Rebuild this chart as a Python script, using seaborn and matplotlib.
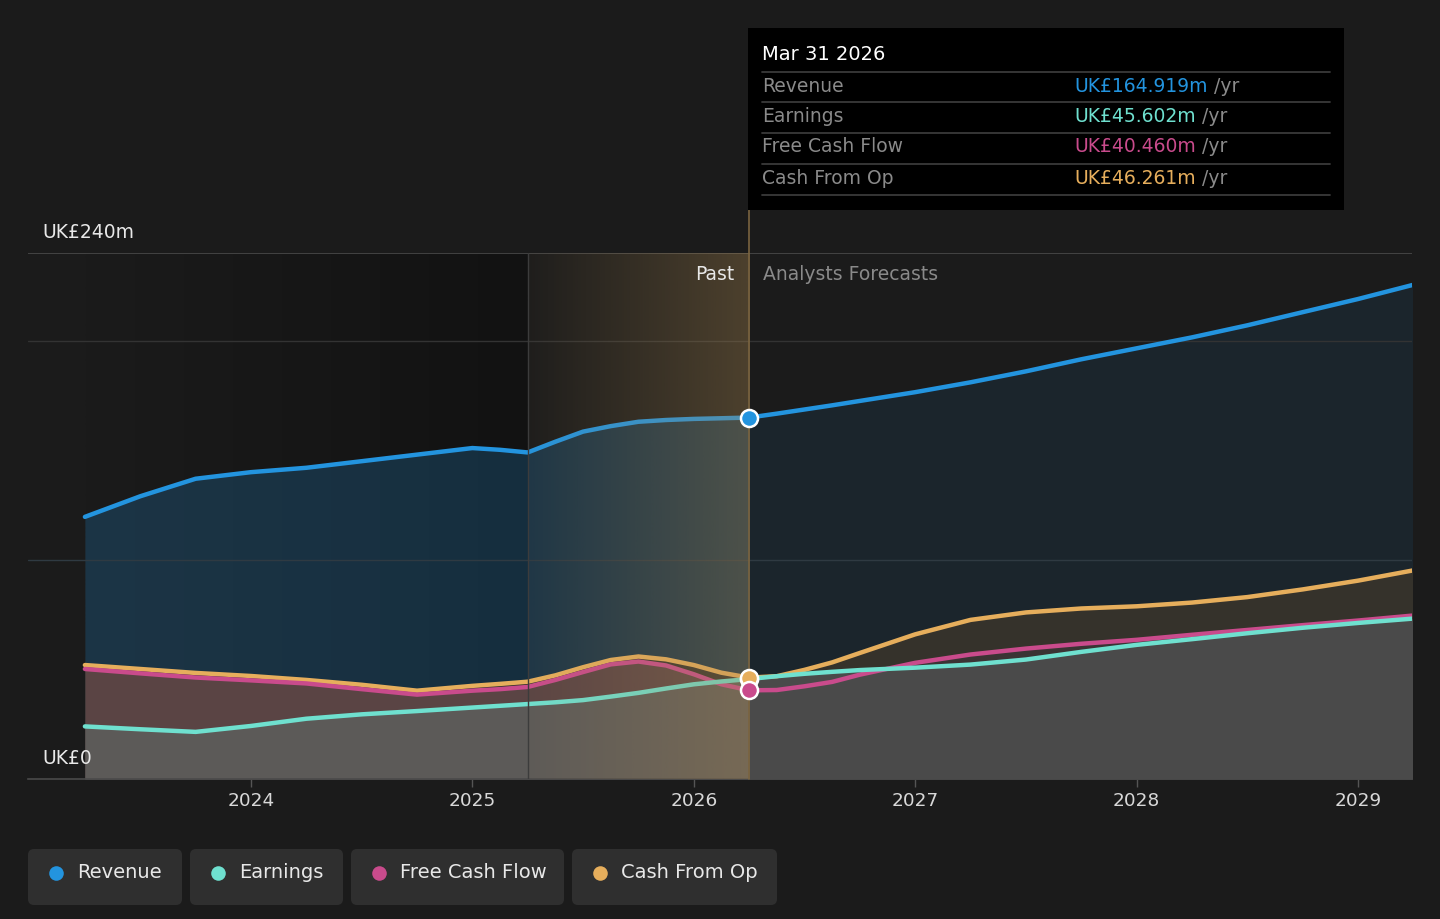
import numpy as np
import pandas as pd
import matplotlib
matplotlib.use("Agg")
import matplotlib.pyplot as plt
from matplotlib.patches import FancyBboxPatch, Rectangle
import seaborn as sns

# dates as decimal years (Mar 31 2023 .. Mar 31 2029), denser where curves bend
dates = [2023.25, 2023.5, 2023.75, 2024.0, 2024.25, 2024.5, 2024.75, 2025.0,
         2025.125, 2025.25, 2025.375, 2025.5, 2025.625, 2025.75, 2025.875,
         2026.0, 2026.125, 2026.25, 2026.375, 2026.5, 2026.625, 2026.75,
         2027.0, 2027.25, 2027.5, 2027.75, 2028.0, 2028.25, 2028.5, 2028.75,
         2029.0, 2029.25]

# values in UK£m
revenue = [119.6, 129.0, 137.0, 140.0, 142.0, 145.0, 148.0, 151.0,
           150.2, 149.0, 153.9, 158.5, 161.0, 163.0, 163.8,
           164.3, 164.6, 164.919, 166.7, 168.6, 170.5, 172.5,
           176.5, 181.0, 186.0, 191.5, 196.5, 201.5, 207.0, 213.0,
           219.0, 225.5]
earnings = [24.0, 22.7, 21.5, 24.2, 27.5, 29.5, 31.0, 32.6,
            33.4, 34.2, 35.0, 36.0, 37.6, 39.3, 41.3,
            43.2, 44.5, 45.602, 46.9, 48.0, 48.9, 49.7,
            50.8, 52.2, 54.5, 58.0, 61.2, 63.8, 66.5, 69.0,
            71.2, 73.2]
free_cash_flow = [50.2, 48.2, 46.3, 45.0, 43.6, 41.0, 38.5, 40.3,
                  41.0, 42.0, 45.2, 48.8, 52.3, 53.6, 51.8,
                  47.8, 43.2, 40.460, 40.6, 42.3, 44.3, 47.6,
                  53.0, 56.8, 59.5, 61.7, 63.5, 65.8, 68.0, 70.2,
                  72.3, 74.6]
cash_from_op = [52.0, 50.2, 48.4, 47.0, 45.2, 43.0, 40.3, 42.5,
                43.4, 44.4, 47.3, 51.0, 54.3, 55.9, 54.6,
                52.0, 48.5, 46.261, 46.9, 49.8, 53.2, 57.5,
                66.0, 72.6, 76.0, 77.8, 78.8, 80.5, 83.0, 86.5,
                90.5, 95.2]

series_names = ["Revenue", "Earnings", "Free Cash Flow", "Cash From Op"]
series_colors = ["#2394df", "#6fe0cf", "#c94b8c", "#e6ae5c"]

year_ticks = [2024, 2025, 2026, 2027, 2028, 2029]
y_labels = ["UK£0", "UK£240m"]

band_start = 2025.25   # start of highlighted past year
now = 2026.25          # Mar 31 2026 tooltip date
tooltip_title = "Mar 31 2026"

df = pd.DataFrame({"date": dates, "Revenue": revenue, "Earnings": earnings,
                   "Free Cash Flow": free_cash_flow, "Cash From Op": cash_from_op})

bg = "#1b1b1b"
sns.set_theme(style="dark")
plt.rcParams["font.family"] = ["DejaVu Sans"]

fig = plt.figure(figsize=(14.4, 9.19), dpi=100, facecolor=bg)
W, H = 1440, 919
ax = fig.add_axes([28 / W, 140 / H, 1384 / W, 526 / H])
ax.set_facecolor(bg)
x0, x1 = 2022.993, 2029.244
ax.set_xlim(x0, x1)
ax.set_ylim(0, 240)
px_x = (x1 - x0) / 1384   # years per pixel
px_y = 240 / 526          # UK£m per pixel

past = df[df["date"] <= now]
fut = df[df["date"] >= now]

# darker gradient in the past region
grad = np.linspace(0, 1, 256)
c0 = np.array([27, 27, 27]) / 255
c1 = np.array([18, 18, 18]) / 255
img = (c0[None, :] * (1 - grad[:, None]) + c1[None, :] * grad[:, None])[None, :, :]
ax.imshow(img, extent=[dates[0], band_start, 0, 240], aspect="auto", zorder=0.5)

# area fills
ax.fill_between(past["date"], 0, past["Revenue"], color="#2394df", alpha=0.22, lw=0, zorder=1)
ax.fill_between(fut["date"], 0, fut["Revenue"], color="#2394df", alpha=0.09, lw=0, zorder=1)
ax.fill_between(df["date"], 0, df["Cash From Op"], color="#35322b", lw=0, zorder=1.2)
ax.fill_between(past["date"], 0, past["Free Cash Flow"], color="#5a4444", lw=0, zorder=1.3)
ax.fill_between(fut["date"], 0, fut["Free Cash Flow"], color="#3a3434", lw=0, zorder=1.3)
ax.fill_between(past["date"], 0, past["Earnings"], color="#5c5a58", lw=0, zorder=1.4)
ax.fill_between(fut["date"], 0, fut["Earnings"], color="#4a4a4a", lw=0, zorder=1.4)

# gridlines
ax.axhline(100, color="#2f3a42", lw=1, zorder=1.6)
ax.axhline(200, color="#333333", lw=1, zorder=1.6)
ax.axhline(240, color="#4a4a4a", lw=1.2, zorder=1.6)

# lines
for name, col in zip(series_names[::-1], series_colors[::-1]):
    sns.lineplot(data=df, x="date", y=name, color=col, lw=3.2, ax=ax, zorder=3,
                 solid_capstyle="round", solid_joinstyle="round")

# highlighted past year band, on top of lines
band = np.zeros((1, 256, 4))
band[..., 0] = 170 / 255
band[..., 1] = 135 / 255
band[..., 2] = 80 / 255
band[..., 3] = np.linspace(0.03, 0.35, 256)
ax.imshow(band, extent=[band_start, now, 0, 240], aspect="auto", zorder=4)
ax.axvline(band_start, color="#3c3c3c", lw=1, zorder=4.1)
ax.axvline(now, ymin=0, ymax=(779 - 210) / 526, color="#7a6440", lw=1.2,
           zorder=4.1, clip_on=False)

# markers at tooltip date
now_row = df[df["date"] == now].iloc[0]
for name, col in [("Earnings", "#6fe0cf"), ("Cash From Op", "#e6ae5c"),
                  ("Free Cash Flow", "#c94b8c"), ("Revenue", "#2394df")]:
    ax.scatter([now], [now_row[name]], s=150, color=col, edgecolor="white",
               linewidth=1.8, zorder=5)

# axes styling
for s in ["left", "right", "top"]:
    ax.spines[s].set_visible(False)
ax.spines["bottom"].set_color("#4a4a4a")
ax.spines["bottom"].set_linewidth(1.2)
ax.set_xticks(year_ticks)
ax.set_xticklabels([str(y) for y in year_ticks], color="#d8d8d8", fontsize=13.3)
ax.tick_params(axis="x", length=6, color="#555555", width=1, pad=3, bottom=True)
ax.set_yticks([])
ax.set_xlabel("")
ax.set_ylabel("")
ax.grid(False)

# y-axis labels and period labels
ax.text(x0 + 14 * px_x, 240 + 21 * px_y, y_labels[1], color="#e8e8e8",
        fontsize=13.5, ha="left", va="center")
ax.text(x0 + 14 * px_x, 21 * px_y, y_labels[0], color="#e8e8e8",
        fontsize=13.5, ha="left", va="center", zorder=6)
ax.text(now - 15 * px_x, 240 - 21 * px_y, "Past", color="#e8e8e8",
        fontsize=13.5, ha="right", va="center", zorder=6)
ax.text(now + 14 * px_x, 240 - 21 * px_y, "Analysts Forecasts", color="#8a8a8a",
        fontsize=13.5, ha="left", va="center", zorder=6)

# overlay in pixel coordinates for tooltip and legend
ov = fig.add_axes([0, 0, 1, 1], zorder=10)
ov.set_xlim(0, W)
ov.set_ylim(H, 0)
ov.axis("off")
ov.patch.set_alpha(0)

ov.add_patch(Rectangle((748, 28), 596, 182, color="#000000", lw=0))
ov.text(762, 55, tooltip_title, color="white", fontsize=14, va="center")
values = [now_row[n] for n in series_names]
row_y = [86, 116, 147, 178]
for yy in [72, 102, 133, 164, 195]:
    ov.plot([762, 1330], [yy, yy], color="#3a3a3a", lw=1.3)
fig.canvas.draw()
renderer = fig.canvas.get_renderer()
for name, col, val, yy in zip(series_names, series_colors, values, row_y):
    ov.text(762, yy, name, color="#8a8a8a", fontsize=13.5, va="center")
    t = ov.text(1074, yy, f"UK£{val:.3f}m", color=col, fontsize=13.5, va="center")
    bb = t.get_window_extent(renderer=renderer)
    ov.text(bb.x1 + 6, yy, "/yr", color="#8a8a8a", fontsize=13.5, va="center")

# legend pills
pills = [(28, 154), (190, 153), (351, 213), (572, 205)]
for (px, pw), name, col in zip(pills, series_names, series_colors):
    ov.add_patch(FancyBboxPatch((px + 4, 853), pw - 8, 48,
                                boxstyle="round,pad=4,rounding_size=6",
                                color="#2f2f2f", lw=0))
    ov.scatter([px + 28], [873], s=110, color=col, lw=0)
    ov.text(px + 49, 873, name, color="#e8e8e8", fontsize=14, va="center")

fig.savefig("out.png", dpi=100, facecolor=bg)
